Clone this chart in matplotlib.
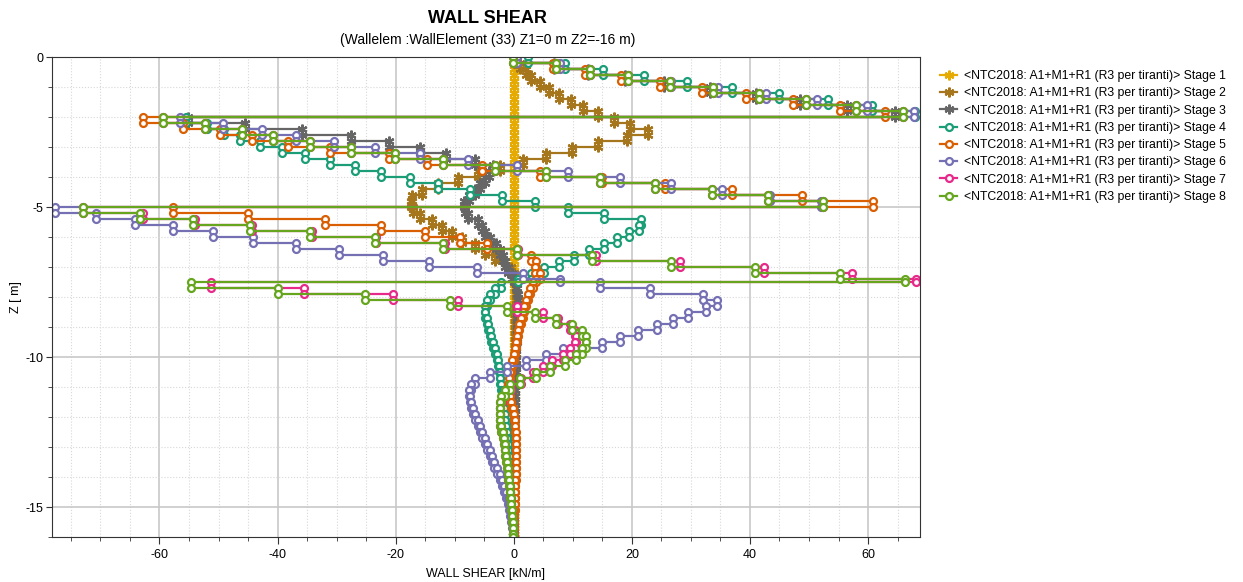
import numpy as np
import matplotlib.pyplot as plt
from matplotlib.ticker import MultipleLocator

plt.rcParams['font.family'] = ['Liberation Sans', 'DejaVu Sans']
plt.rcParams['axes.unicode_minus'] = False

# element boundaries along the wall [m] (shear is constant on each element)
z_nodes = -np.round(np.r_[np.arange(0, 7.21, 0.2), 7.4, np.arange(7.5, 15.91, 0.2), 16.0], 2)

# wall shear per element [kN/m], 81 elements per stage
stage_1 = [0.1, 0.1, 0.1, 0.1, 0.1, 0.1, 0.1, 0.1, 0.1, 0.1,
           0.1, 0.1, 0.1, 0.1, 0.1, 0.1, 0.1, 0.1, 0.1, 0.1,
           0.1, 0.1, 0.1, 0.1, 0.1, 0.1, 0.1, 0.1, 0.1, 0.1,
           0.1, 0.1, 0.1, 0.1, 0.1, 0.1, 0.1, 0.1, 0.1, 0.1,
           0.1, 0.1, 0.1, 0.1, 0.1, 0.1, 0.1, 0.1, 0.1, 0.1,
           0.1, 0.1, 0.1, 0.1, 0.1, 0.1, 0.1, 0.1, 0.1, 0.1,
           0.1, 0.1, 0.1, 0.1, 0.1, 0.1, 0.1, 0.1, 0.1, 0.1,
           0.1, 0.1, 0.1, 0.1, 0.1, 0.1, 0.1, 0.1, 0.1, 0.1, 0.1]
stage_2 = [0.3, 1.0, 2.0, 3.0, 4.4, 6.0, 7.7, 9.7, 11.7, 14.2,
           16.9, 19.7, 22.8, 19.1, 14.3, 9.8, 5.5, 1.6, -2.3, -6.0,
           -9.5, -12.8, -15.6, -17.3, -17.4, -17.0, -15.9, -13.9, -12.2, -10.5,
           -8.8, -6.6, -4.9, -3.2, -1.5, -0.5, 0.0, 0.2, 0.3, 0.3,
           0.3, 0.3, 0.3, 0.2, 0.2, 0.2, 0.2, 0.2, 0.2, 0.2,
           0.2, 0.2, 0.2, 0.2, 0.2, 0.2, 0.2, 0.2, 0.2, 0.2,
           0.1, 0.1, 0.1, 0.1, 0.1, 0.1, 0.1, 0.1, 0.1, 0.1,
           0.1, 0.1, 0.1, 0.1, 0.1, 0.1, 0.1, 0.1, 0.0, 0.0, 0.0]
stage_3 = [0.0, 6.8, 12.5, 18.8, 25.5, 33.2, 41.0, 48.5, 56.5, 64.5,
           -55.1, -45.5, -35.9, -27.5, -21.2, -15.9, -11.4, -6.5, -3.5, -4.2,
           -4.9, -5.8, -6.6, -7.5, -8.5, -8.2, -7.7, -6.0, -5.4, -4.9,
           -4.0, -3.0, -2.4, -1.9, -1.4, -0.9, -0.3, 0.1, 0.4, 0.6,
           0.7, 0.7, 0.7, 0.6, 0.6, 0.5, 0.5, 0.5, 0.4, 0.4,
           0.4, 0.3, 0.3, 0.3, 0.3, 0.2, 0.2, 0.2, 0.2, 0.2,
           0.2, 0.1, 0.1, 0.1, 0.1, 0.1, 0.1, 0.1, 0.1, 0.1,
           0.1, 0.1, 0.1, 0.1, 0.1, 0.0, 0.0, 0.0, 0.0, 0.0, 0.0]
stage_4 = [2.4, 8.6, 15.1, 22.0, 29.4, 37.0, 45.0, 53.2, 60.6, 67.9,
           -55.5, -52.0, -49.0, -46.4, -43.0, -39.3, -35.4, -31.1, -26.9, -22.4,
           -17.6, -12.8, -7.4, -2.0, 3.6, 9.2, 15.3, 21.6, 21.2, 19.6,
           17.5, 15.2, 12.8, 10.2, 7.6, 5.2, 3.0, 0.8, -2.1, -3.2,
           -4.1, -4.6, -4.9, -4.9, -4.6, -4.4, -4.1, -3.8, -3.5, -3.2,
           -2.9, -2.7, -2.5, -2.4, -2.3, -2.1, -1.9, -1.8, -1.7, -1.6,
           -1.5, -1.4, -1.3, -1.2, -1.1, -1.0, -0.9, -0.8, -0.7, -0.6,
           -0.6, -0.5, -0.5, -0.4, -0.4, -0.3, -0.3, -0.2, -0.2, -0.1, -0.1]
stage_5 = [0.0, 6.7, 12.0, 18.1, 24.7, 31.8, 39.4, 47.3, 55.3, 62.9,
           -62.8, -56.0, -49.8, -44.4, -38.2, -31.1, -21.2, -14.7, -5.4, 4.4,
           15.0, 25.6, 36.9, 48.8, 60.9, -57.7, -45.0, -32.0, -22.4, -15.0,
           -9.1, -4.6, 0.5, 3.0, 3.8, 3.6, 4.4, 3.8, 3.3, 2.8,
           2.4, 2.0, 1.7, 1.5, 1.2, 0.9, 0.7, 0.5, 0.3, 0.2,
           0.0, -0.3, -0.5, -0.7, -0.8, -1.0, -0.9, -0.7, -0.4, -0.1,
           0.1, 0.2, 0.2, 0.3, 0.3, 0.3, 0.3, 0.3, 0.3, 0.3,
           0.3, 0.2, 0.2, 0.2, 0.2, 0.2, 0.1, 0.1, 0.0, 0.0, -0.1]
stage_6 = [0.5, 7.8, 12.9, 19.4, 26.7, 34.6, 42.8, 51.3, 59.8, 67.7,
           -56.6, -49.2, -42.7, -36.8, -30.4, -23.5, -15.9, -7.7, 0.5, 9.2,
           18.0, 26.7, 35.2, 43.4, 52.1, -77.7, -70.7, -64.2, -57.7, -50.9,
           -44.1, -36.8, -29.6, -22.1, -14.3, -6.3, 1.6, 7.8, 14.6, 23.1,
           32.1, 34.4, 32.5, 29.5, 27.0, 24.2, 21.1, 18.0, 14.9, 8.4,
           5.5, 2.1, -1.2, -4.1, -6.6, -7.2, -7.5, -7.4, -7.2, -6.9,
           -6.5, -6.1, -5.7, -5.3, -4.9, -4.5, -4.1, -3.7, -3.3, -2.8,
           -2.3, -2.0, -1.6, -1.3, -1.0, -0.8, -0.6, -0.5, -0.3, -0.2, -0.1]
stage_7 = [-0.1, 7.2, 12.9, 19.4, 26.4, 33.8, 41.6, 49.5, 58.0, 66.0,
           -59.4, -52.3, -46.1, -40.7, -34.5, -27.5, -20.1, -11.9, -3.2, 5.5,
           14.6, 23.9, 33.5, 43.1, 52.4, -72.9, -62.8, -54.0, -44.4, -34.2,
           -23.3, -11.7, 0.7, 14.0, 28.1, 42.3, 57.2, 68.2, -51.2, -35.6,
           -20.4, -9.4, 0.5, 5.0, 7.5, 9.5, 10.3, 10.6, 10.3, 9.5,
           8.4, 6.5, 5.0, 3.3, 1.3, -0.5, -1.4, -2.0, -2.3, -2.4,
           -2.4, -2.3, -2.1, -1.9, -1.7, -1.5, -1.4, -1.3, -1.1, -1.0,
           -0.9, -0.8, -0.7, -0.6, -0.5, -0.4, -0.35, -0.3, -0.2, -0.15, -0.1]
stage_8 = [-0.1, 7.2, 12.9, 19.4, 26.4, 33.8, 41.6, 49.5, 58.0, 66.0,
           -59.4, -52.3, -46.1, -40.7, -34.5, -27.5, -20.1, -11.9, -3.2, 5.5,
           14.6, 23.9, 33.5, 43.1, 52.4, -72.9, -63.3, -54.3, -44.7, -34.5,
           -23.5, -11.9, 0.5, 13.2, 26.7, 40.8, 55.3, 66.3, -54.6, -39.9,
           -25.2, -10.8, -1.2, 3.6, 7.2, 9.8, 11.5, 12.3, 12.3, 11.5,
           10.6, 8.6, 6.1, 3.8, 1.0, -0.7, -1.5, -2.1, -2.4, -2.4,
           -2.4, -2.3, -2.1, -1.9, -1.7, -1.5, -1.4, -1.3, -1.1, -1.0,
           -0.9, -0.8, -0.7, -0.6, -0.5, -0.4, -0.35, -0.3, -0.2, -0.15, -0.1]

stages = [stage_1, stage_2, stage_3, stage_4, stage_5, stage_6, stage_7, stage_8]
stage_names = ['Stage 1', 'Stage 2', 'Stage 3', 'Stage 4', 'Stage 5', 'Stage 6', 'Stage 7', 'Stage 8']
colors = ['#E6AB02', '#A6761D', '#666666', '#1B9E77', '#D95F02', '#7570B3', '#E7298A', '#66A61E']

fig = plt.figure(figsize=(12.43, 5.82), dpi=100)
ax = fig.add_axes([52 / 1243, 45 / 582, 868 / 1243, 480 / 582])

# step profile: each element drawn from its top node to its bottom node
z_steps = np.column_stack([z_nodes[:-1], z_nodes[1:]]).ravel()
for i, shear in enumerate(stages):
    v_steps = np.repeat(shear, 2)
    if i < 3:
        mk = dict(marker=(6, 2, 0), markersize=7, markeredgewidth=1.6)
    else:
        mk = dict(marker='o', markersize=5, markerfacecolor='white', markeredgewidth=1.6)
    ax.plot(v_steps, z_steps, color=colors[i], linewidth=1.6,
            label='<NTC2018: A1+M1+R1 (R3 per tiranti)> ' + stage_names[i], **mk)

ax.set_xlim(-78.2, 68.8)
ax.set_ylim(-16.0, 0.0)
ax.xaxis.set_major_locator(MultipleLocator(20))
ax.xaxis.set_minor_locator(MultipleLocator(5))
ax.yaxis.set_major_locator(MultipleLocator(5))
ax.yaxis.set_minor_locator(MultipleLocator(1))
ax.tick_params(which='major', direction='out', length=5, labelsize=9, color='#333333')
ax.tick_params(which='minor', direction='out', length=3, color='#333333')
ax.tick_params(axis='y', which='major', length=4, pad=2)
ax.grid(which='major', color='#c8c8c8', linewidth=1.2)
ax.grid(which='minor', color='#d8d8d8', linestyle=':', linewidth=0.8)
ax.set_axisbelow(True)
for s in ax.spines.values():
    s.set_color('#333333')

ax.set_xlabel('WALL SHEAR [kN/m]', fontsize=9, labelpad=5)
ax.set_ylabel('Z [ m]', fontsize=9)
ax.yaxis.set_label_coords(-30 / 868, 0.5)

fig.text(0.392, 0.968, 'WALL SHEAR', ha='center', va='center', fontsize=13, fontweight='bold')
fig.text(0.392, 0.931, '(Wallelem :WallElement (33) Z1=0 m Z2=-16 m)', ha='center', va='center', fontsize=10)

ax.legend(loc='upper left', bbox_to_anchor=(934 / 1243, 1 - 64 / 582), bbox_transform=fig.transFigure,
          frameon=False, fontsize=8.8, handlelength=1.4, handletextpad=0.55, labelspacing=0.43, borderpad=0)

plt.savefig('out.png', dpi=100)
